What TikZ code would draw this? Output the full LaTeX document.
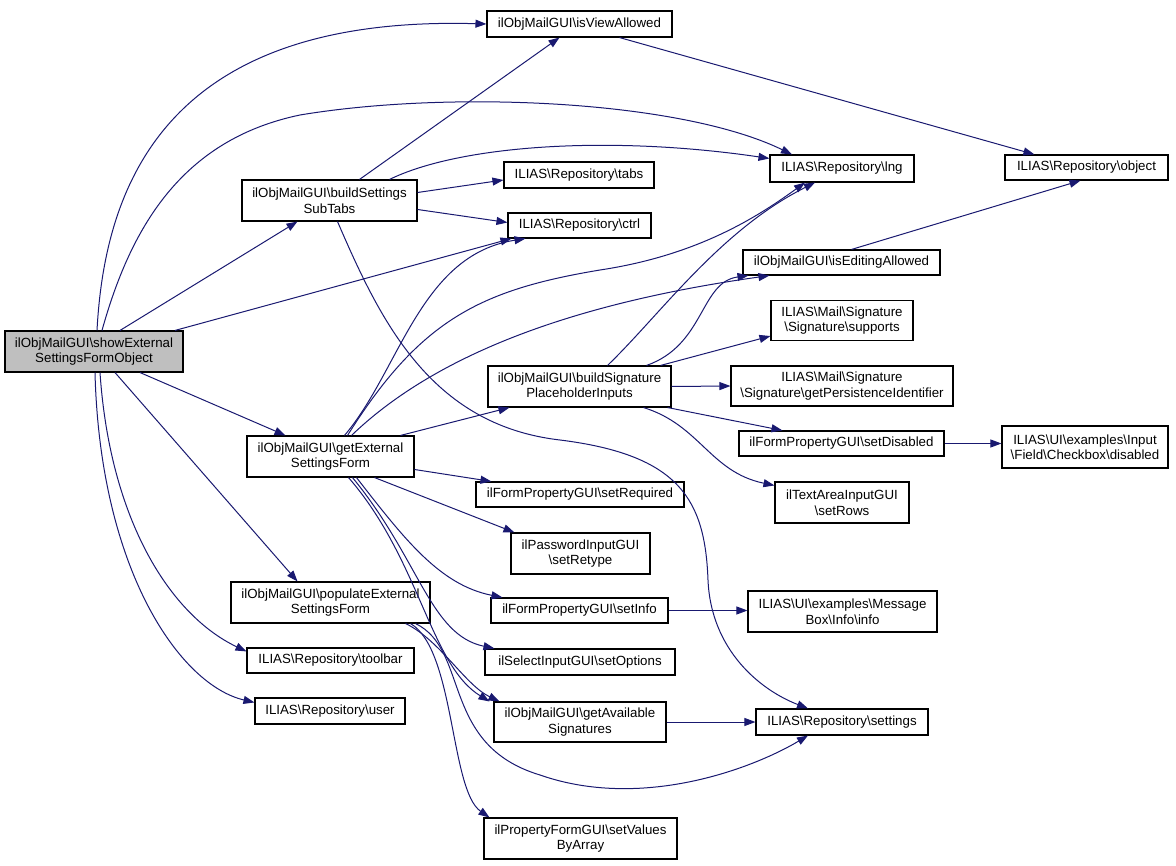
\documentclass[tikz,border=0pt]{standalone}
\usepackage{fontspec}
\setmainfont{Liberation Sans}
\usetikzlibrary{arrows.meta}
\newcommand\BS{\textbackslash}
\definecolor{edgeblue}{RGB}{25,25,112}
\definecolor{rootgray}{RGB}{191,191,191}
\begin{document}
\begin{tikzpicture}[x=1pt,y=-1pt,
  fn/.style={draw=black,line width=1.1pt,fill=white,inner sep=0pt,align=center,
    font=\fontsize{13.3}{15.5}\selectfont},
  call/.style={draw=edgeblue,line width=1pt,-{Triangle[length=11pt,width=8pt]}}]
\useasboundingbox (0,0) rectangle (1176,866);
% column 1
\node[fn,fill=rootgray,minimum width=178pt,minimum height=41pt] (S) at (94,351.5) {ilObjMailGUI\BS showExternal\\SettingsFormObject};
% column 2
\node[fn,minimum width=175pt,minimum height=41pt] (bst) at (329.5,200.5) {ilObjMailGUI\BS buildSettings\\SubTabs};
\node[fn,minimum width=167pt,minimum height=41pt] (gesf) at (330.5,456.5) {ilObjMailGUI\BS getExternal\\SettingsForm};
\node[fn,minimum width=199pt,minimum height=41pt] (pop) at (330.5,602.5) {ilObjMailGUI\BS populateExternal\\SettingsForm};
\node[fn,minimum width=167pt,minimum height=25pt] (tb) at (330.5,660.5) {ILIAS\BS Repository\BS toolbar};
\node[fn,minimum width=150pt,minimum height=26pt] (usr) at (330,711) {ILIAS\BS Repository\BS user};
% column 3
\node[fn,minimum width=185pt,minimum height=26pt] (iva) at (579.5,24) {ilObjMailGUI\BS isViewAllowed};
\node[fn,minimum width=150pt,minimum height=26pt] (tabs) at (579,175) {ILIAS\BS Repository\BS tabs};
\node[fn,minimum width=143pt,minimum height=25pt] (ctrl) at (579.5,225.5) {ILIAS\BS Repository\BS ctrl};
\node[fn,minimum width=183pt,minimum height=41pt] (bsp) at (579.5,386.5) {ilObjMailGUI\BS buildSignature\\PlaceholderInputs};
\node[fn,minimum width=208pt,minimum height=25pt] (sreq) at (580,494.5) {ilFormPropertyGUI\BS setRequired};
\node[fn,minimum width=139pt,minimum height=41pt] (sret) at (580.5,553.5) {ilPasswordInputGUI\\\BS setRetype};
\node[fn,minimum width=177pt,minimum height=25pt] (sinfo) at (579.5,610.5) {ilFormPropertyGUI\BS setInfo};
\node[fn,minimum width=190pt,minimum height=26pt] (sopt) at (580,662) {ilSelectInputGUI\BS setOptions};
\node[fn,minimum width=172pt,minimum height=40pt] (gas) at (580,722) {ilObjMailGUI\BS getAvailable\\Signatures};
\node[fn,minimum width=193pt,minimum height=41pt] (svba) at (580.5,838.5) {ilPropertyFormGUI\BS setValues\\ByArray};
% column 4
\node[fn,minimum width=144pt,minimum height=27pt] (lng) at (842,168.5) {ILIAS\BS Repository\BS lng};
\node[fn,minimum width=197pt,minimum height=25pt] (iea) at (841.5,262.5) {ilObjMailGUI\BS isEditingAllowed};
\node[fn,minimum width=142pt,minimum height=40pt] (sup) at (842,320.5) {ILIAS\BS Mail\BS Signature\\\BS Signature\BS supports};
\node[fn,minimum width=222pt,minimum height=40pt] (gpi) at (842,386) {ILIAS\BS Mail\BS Signature\\\BS Signature\BS getPersistenceIdentifier};
\node[fn,minimum width=205pt,minimum height=25pt] (sdis) at (841.5,443.5) {ilFormPropertyGUI\BS setDisabled};
\node[fn,minimum width=134pt,minimum height=41pt] (srows) at (842,502.5) {ilTextAreaInputGUI\\\BS setRows};
\node[fn,minimum width=189pt,minimum height=41pt] (mbi) at (842.5,611.5) {ILIAS\BS UI\BS examples\BS Message\\Box\BS Info\BS info};
\node[fn,minimum width=172pt,minimum height=26pt] (set) at (842,722) {ILIAS\BS Repository\BS settings};
% column 5
\node[fn,minimum width=163pt,minimum height=25pt] (obj) at (1086.5,167.5) {ILIAS\BS Repository\BS object};
\node[fn,minimum width=166pt,minimum height=42pt] (cbd) at (1085,447) {ILIAS\BS UI\BS examples\BS Input\\\BS Field\BS Checkbox\BS disabled};

% edges from showExternalSettingsFormObject
\draw[call] ([xshift=3pt]S.north) .. controls (105,180) and (170,15) .. (iva.west);
\draw[call] ([xshift=8pt]S.north) .. controls (130,230) and (180,140) .. (300,115) .. controls (450,90) and (680,100) .. ([xshift=-50pt]lng.north);
\draw[call] ([xshift=26pt]S.north) -- ([xshift=-32pt]bst.south);
\draw[call] ([xshift=81pt]S.north) -- ([xshift=4pt]ctrl.south west);
\draw[call] ([xshift=46pt]S.south) -- ([xshift=-45pt]gesf.north);
\draw[call] ([xshift=21pt]S.south) -- ([xshift=-33pt]pop.north);
\draw[call] ([xshift=6pt]S.south) .. controls (110,520) and (170,615) .. ([yshift=-4pt]tb.north west);
\draw[call] ([xshift=1pt]S.south) .. controls (100,570) and (180,685) .. ([yshift=-5pt]usr.north west);
% edges from buildSettingsSubTabs
\draw[call] ([xshift=30pt]bst.north) -- ([xshift=-20pt]iva.south);
\draw[call] ([xshift=60pt]bst.north) .. controls (460,145) and (610,135) .. ([yshift=-4pt]lng.north west);
\draw[call] ([yshift=8pt]bst.east) -- ([yshift=-5pt]tabs.west);
\draw[call] ([yshift=-9pt]bst.east) -- ([yshift=3pt]ctrl.west);
\draw[call] ([xshift=8pt]bst.south) .. controls (380,320) and (430,425) .. (560,440) .. controls (680,455) and (705,500) .. (708,580) .. controls (711,650) and (760,690) .. ([xshift=-34pt]set.north);
% edges from getExternalSettingsForm
\draw[call] ([xshift=14pt]gesf.north) .. controls (400,370) and (420,255) .. ([xshift=-54pt]ctrl.south);
\draw[call] ([xshift=17pt]gesf.north) .. controls (420,320) and (480,290) .. (600,270) .. controls (700,255) and (760,215) .. ([xshift=-37pt]lng.south);
\draw[call] ([xshift=21pt]gesf.north) .. controls (430,360) and (560,305) .. ([xshift=27pt]iea.south west);
\draw[call] ([xshift=70pt]gesf.north) -- ([xshift=22pt]bsp.south west);
\draw[call] ([yshift=-13pt]gesf.east) -- ([xshift=16pt]sreq.north west);
\draw[call] ([xshift=44pt]gesf.south) -- ([xshift=4pt]sret.north west);
\draw[call] ([xshift=26pt]gesf.south) .. controls (405,540) and (440,585) .. ([xshift=12pt]sinfo.north west);
\draw[call] ([xshift=22pt]gesf.south) .. controls (420,560) and (430,635) .. ([xshift=10pt]sopt.north west);
\draw[call] ([xshift=18pt]gesf.south) .. controls (420,560) and (430,665) .. ([xshift=-4pt]gas.north west);
% edges from populateExternalSettingsForm
\draw[call] ([xshift=-25pt]pop.south east) .. controls (440,640) and (465,685) .. ([xshift=6pt]gas.north west);
\draw[call] ([xshift=-20pt]pop.south east) .. controls (455,650) and (450,790) .. ([xshift=6pt]svba.north west);
\draw[call] ([xshift=-15pt]pop.south east) .. controls (470,650) and (440,745) .. (540,775) .. controls (640,810) and (750,770) .. ([xshift=-34pt]set.south);
% edges from buildSignaturePlaceholderInputs
\draw[call] ([xshift=28pt]bsp.north) .. controls (660,315) and (720,230) .. ([xshift=-27pt]lng.south);
\draw[call] ([xshift=67pt]bsp.north) .. controls (705,345) and (700,282) .. ([xshift=6pt]iea.south west);
\draw[call] ([xshift=-11pt]bsp.north east) -- ([yshift=5pt]sup.south west);
\draw[call] (bsp.east) -- (gpi.west);
\draw[call] ([xshift=-4pt]bsp.south east) -- ([xshift=44pt]sdis.north west);
\draw[call] ([xshift=64pt]bsp.south) .. controls (700,425) and (710,472) .. ([yshift=-4pt]srows.north west);
% remaining edges
\draw[call] ([xshift=40pt]iva.south) -- ([xshift=30pt]obj.north west);
\draw[call] ([xshift=10pt]iea.north) -- ([xshift=-6pt]obj.south);
\draw[call] (sdis.east) -- ([yshift=3.5pt]cbd.west);
\draw[call] (sinfo.east) -- ([yshift=1pt]mbi.west);
\draw[call] (gas.east) -- (set.west);
\end{tikzpicture}
\end{document}
